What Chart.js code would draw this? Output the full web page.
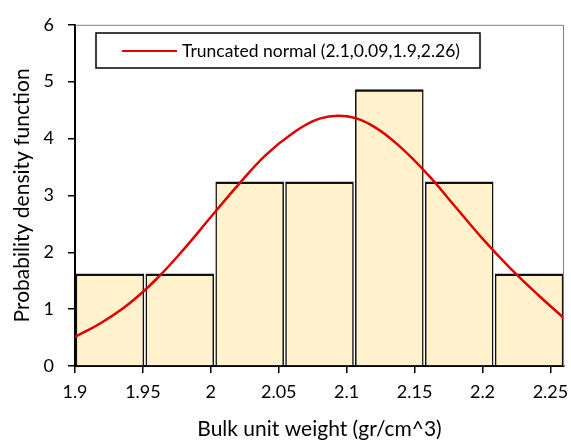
<!DOCTYPE html>
<html>
<head>
<meta charset="utf-8">
<script src="https://cdn.jsdelivr.net/npm/chart.js@4/dist/chart.umd.min.js"></script>
<style>
  html, body { margin: 0; padding: 0; background: #fff; }
  #wrap { width: 571px; height: 444px; }
</style>
</head>
<body>
<div id="wrap"><canvas id="hist"></canvas></div>
<script>
// histogram bins (bulk unit weight) and their density heights
const binEdges = [1.9, 1.9514, 2.0029, 2.0543, 2.1057, 2.1571, 2.2086, 2.26];
const density = [1.62, 1.62, 3.24, 3.24, 4.86, 3.24, 1.62];

// fitted curve
const curveX = [1.9, 1.92, 1.94, 1.96, 1.98, 2.0, 2.02, 2.04, 2.06, 2.08, 2.1, 2.12, 2.14, 2.16, 2.18, 2.2, 2.22, 2.24, 2.26];
const curveY = [0.51, 0.77, 1.10, 1.53, 2.05, 2.62, 3.18, 3.70, 4.09, 4.35, 4.39, 4.21, 3.84, 3.36, 2.80, 2.24, 1.73, 1.27, 0.84];

const xTicks = [1.9, 1.95, 2, 2.05, 2.1, 2.15, 2.2, 2.25];

const curveLabel = "Truncated normal (2.1,0.09,1.9,2.26)";
const FONT = "Lato";

const bars = density.map((d, i) => ({ x: (binEdges[i] + binEdges[i + 1]) / 2, y: d }));
const curve = curveX.map((x, i) => ({ x: x, y: curveY[i] }));

// gray frame on top/right + boxed legend
const frame = {
  id: 'frame',
  afterDraw(chart) {
    const { ctx, chartArea: a } = chart;
    ctx.save();
    ctx.strokeStyle = '#808080';
    ctx.lineWidth = 1;
    ctx.beginPath();
    ctx.moveTo(a.left, a.top + 0.5);
    ctx.lineTo(a.right - 0.5, a.top + 0.5);
    ctx.lineTo(a.right - 0.5, a.bottom);
    ctx.stroke();

    // legend
    ctx.fillStyle = '#fff';
    ctx.fillRect(96, 33, 384, 35);
    ctx.strokeStyle = '#000';
    ctx.lineWidth = 1.5;
    ctx.strokeRect(96, 33, 384, 35);
    ctx.strokeStyle = '#e00000';
    ctx.lineWidth = 2;
    ctx.beginPath();
    ctx.moveTo(122, 51);
    ctx.lineTo(177, 51);
    ctx.stroke();
    ctx.fillStyle = '#000';
    ctx.font = '17.5px ' + FONT;
    ctx.textBaseline = 'middle';
    ctx.fillText(chart.data.datasets[0].label, 182, 51);
    ctx.restore();
  }
};

new Chart(document.getElementById('hist'), {
  type: 'bar',
  data: {
    datasets: [
      {
        type: 'line',
        label: curveLabel,
        data: curve,
        borderColor: '#e00000',
        borderWidth: 2.5,
        pointRadius: 0,
        tension: 0.4,
        fill: false,
        order: 0
      },
      {
        label: 'Histogram',
        data: bars,
        backgroundColor: '#fff2cc',
        borderColor: '#111',
        borderWidth: { top: 2.5, left: 1.5, right: 1.5, bottom: 0 },
        borderSkipped: false,
        barPercentage: 1,
        categoryPercentage: 1,
        order: 1
      }
    ]
  },
  options: {
    responsive: true,
    maintainAspectRatio: false,
    animation: false,
    layout: { padding: { top: 18, right: 7, left: 0, bottom: 0 } },
    plugins: {
      legend: { display: false },
      tooltip: { enabled: false }
    },
    scales: {
      x: {
        type: 'linear',
        min: 1.9,
        max: 2.26,
        offset: false,
        afterBuildTicks: s => {
          s.ticks = xTicks.map(v => ({ value: v }));
        },
        afterFit: s => { s.height = 78; s.paddingLeft = 0; s.paddingRight = 0; },
        ticks: {
          padding: 8,
          color: '#000',
          font: { family: FONT, size: 18 },
          maxRotation: 0,
          autoSkip: false,
          callback: v => String(+v.toFixed(2))
        },
        grid: { drawOnChartArea: false, offset: false, tickLength: 7, color: '#000', lineWidth: 1.5 },
        border: { color: '#000', width: 2 },
        title: {
          display: true,
          text: 'Bulk unit weight (gr/cm^3)',
          color: '#000',
          font: { family: FONT, size: 21 },
          padding: { top: 0, bottom: 2 }
        }
      },
      y: {
        min: 0,
        max: 6,
        afterFit: s => { s.width = 75; },
        ticks: {
          stepSize: 1,
          padding: 14,
          color: '#000',
          font: { family: FONT, size: 18 }
        },
        grid: { drawOnChartArea: false, tickLength: 7, color: '#000', lineWidth: 1.5 },
        border: { color: '#000', width: 2 },
        title: {
          display: true,
          text: 'Probability density function',
          color: '#000',
          font: { family: FONT, size: 21 },
          padding: { top: 10, bottom: 0 }
        }
      }
    }
  },
  plugins: [frame]
});
</script>
</body>
</html>
